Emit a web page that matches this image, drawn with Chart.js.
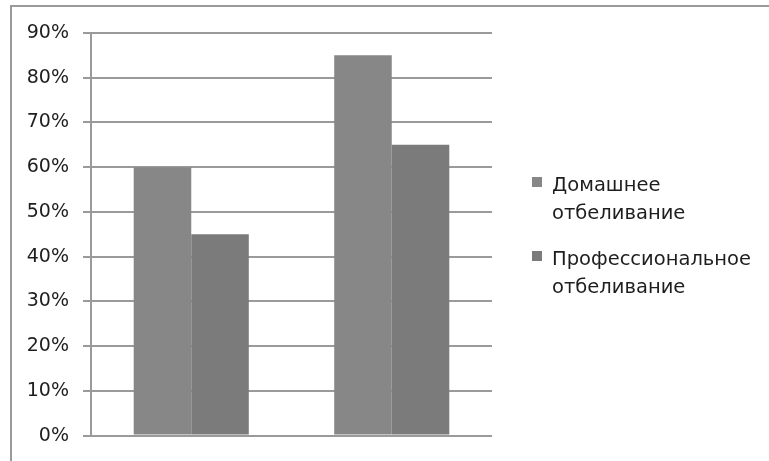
<!DOCTYPE html>
<html>
<head>
<meta charset="utf-8">
<script src="https://cdn.jsdelivr.net/npm/chart.js@4"></script>
<style>
  html, body { margin: 0; padding: 0; background: #fff; overflow: hidden; }
  #frame {
    position: absolute; left: 10px; top: 5px; width: 800px; height: 500px;
    border-top: 2px solid #9a9a9a; border-left: 2px solid #9a9a9a;
  }
  #wrap { position: absolute; left: 0; top: 0; width: 769px; height: 461px; }
</style>
</head>
<body>
<div id="frame"></div>
<div id="wrap"><canvas id="myChart" width="769" height="461"></canvas></div>
<script>
// two groups, values in percent
var categories = ['', ''];
var homeValues = [60, 85];
var proValues = [45, 65];
var seriesNames = [['Домашнее', 'отбеливание'], ['Профессиональное', 'отбеливание']];
var seriesColors = ['#878787', '#7b7b7b'];

var ctx = document.getElementById('myChart').getContext('2d');

// legend on the right, text wraps on two lines like the original
var sideLegend = {
    id: 'sideLegend',
    afterDraw(chart) {
        const c = chart.ctx;
        const rows = [191, 265];
        c.save();
        c.font = '19.5px "DejaVu Sans"';
        c.textBaseline = 'alphabetic';
        c.textAlign = 'left';
        chart.data.datasets.forEach((ds, i) => {
            const y = rows[i];
            c.fillStyle = ds.backgroundColor;
            c.fillRect(532, y - 14, 10, 10);
            c.fillStyle = '#1e1e1e';
            ds.label.forEach((line, j) => {
                c.fillText(line, 552, y + j * 28);
            });
        });
        c.restore();
    }
};

var myChart = new Chart(ctx, {
    type: 'bar',
    data: {
        labels: categories,
        datasets: [{
            label: seriesNames[0],
            data: homeValues,
            backgroundColor: seriesColors[0],
        }, {
            label: seriesNames[1],
            data: proValues,
            backgroundColor: seriesColors[1],
        }]
    },
    options: {
        responsive: false,
        animation: false,
        layout: { padding: { left: 0, top: 33, right: 277, bottom: 25 } },
        datasets: { bar: { categoryPercentage: 0.574, barPercentage: 1.0 } },
        plugins: { legend: { display: false }, tooltip: { enabled: false } },
        scales: {
            x: { display: false },
            y: {
                min: 0,
                max: 90,
                afterFit: (s) => { s.width = 91; },
                border: { color: '#9a9a9a', width: 2 },
                grid: { color: '#9a9a9a', lineWidth: 2, tickLength: 8, drawTicks: true },
                ticks: {
                    stepSize: 10,
                    padding: 14,
                    color: '#1e1e1e',
                    font: { family: 'DejaVu Sans', size: 19 },
                    callback: (v) => v + '%'
                }
            }
        }
    },
    plugins: [sideLegend]
});
</script>
</body>
</html>
